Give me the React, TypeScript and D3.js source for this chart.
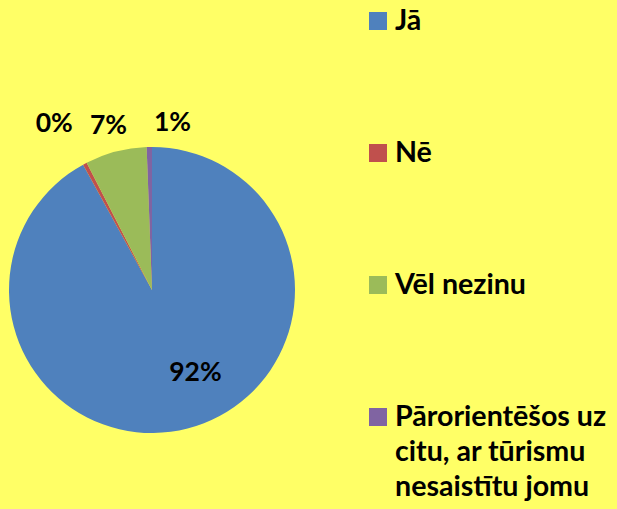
import React from "react";
import * as d3 from "d3";

const categories = ["Jā", "Nē", "Vēl nezinu", "Pārorientēšos uz citu, ar tūrismu nesaistītu jomu"];
const legendLines = [["Jā"], ["Nē"], ["Vēl nezinu"], ["Pārorientēšos uz", "citu, ar tūrismu", "nesaistītu jomu"]];
const values = [92.0, 0.45, 6.95, 0.6];
const colors = ["#4F81BD", "#C0504D", "#9BBB59", "#8064A2"];

const W = 617;
const H = 509;
const cx = 152;
const cy = 290;
const R = 143;
const FONT = "Lato, 'Liberation Sans', sans-serif";

export default function App() {
  const total = d3.sum(values);
  const pie = d3.pie<number>().sort(null).value((d) => d)(values);
  const arc = d3.arc<d3.PieArcDatum<number>>().innerRadius(0).outerRadius(R);
  // label radii / angle shifts (layout only)
  const labelR = [92, 194, 172, 170];
  const labelAngleShift = [-0.24, -0.04, 0.0, 0.14];

  const legendBaselines = [30, 162, 294, 426];
  const legendLineGap = 35;

  return (
    <svg
      width={W}
      height={H}
      style={{ position: "absolute", left: 0, top: 0, display: "block" }}
    >
      <rect x={0} y={0} width={W} height={H} fill="#FFFF66" />
      <g transform={`translate(${cx},${cy})`}>
        {pie.map((p, i) => (
          <path key={i} d={arc(p) || ""} fill={colors[i]} />
        ))}
        {pie.map((p, i) => {
          const mid = (p.startAngle + p.endAngle) / 2 + labelAngleShift[i];
          const x = Math.sin(mid) * labelR[i];
          const y = -Math.cos(mid) * labelR[i];
          const pct = Math.round((values[i] / total) * 100);
          return (
            <text
              key={"l" + i}
              x={x}
              y={y}
              textAnchor="middle"
              dominantBaseline="central"
              fontFamily={FONT}
              fontWeight="bold"
              fontSize={26.5}
              fill="#000"
            >
              {pct}%
            </text>
          );
        })}
      </g>
      {categories.map((c, i) => (
        <g key={c}>
          <rect
            x={369}
            y={legendBaselines[i] - 18}
            width={18}
            height={18}
            fill={colors[i]}
          />
          <text
            x={395}
            y={legendBaselines[i]}
            fontFamily={FONT}
            fontWeight="bold"
            fontSize={28.6}
            fill="#000"
          >
            {legendLines[i].map((ln, j) => (
              <tspan key={j} x={395} y={legendBaselines[i] + j * legendLineGap}>
                {ln}
              </tspan>
            ))}
          </text>
        </g>
      ))}
    </svg>
  );
}
